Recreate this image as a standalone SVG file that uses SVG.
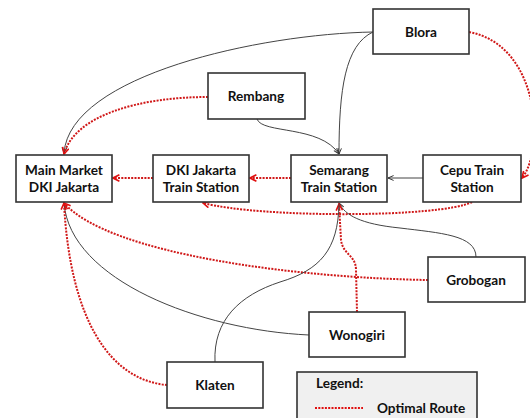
<svg xmlns="http://www.w3.org/2000/svg" width="530" height="418" viewBox="0 0 530 418">
<defs>
<style>
.box{fill:#fff;stroke:#333;stroke-width:1.6}
.t{font-family:Lato,"Liberation Sans",sans-serif;font-weight:bold;font-size:13.6px;fill:#111;text-anchor:middle}
.blk{fill:none;stroke:#444;stroke-width:1}
.red{fill:none;stroke:#d01818;stroke-width:2;stroke-dasharray:2 1.3}
</style>
<marker id="ar" viewBox="0 0 10 10" refX="9" refY="5" markerWidth="8" markerHeight="8" markerUnits="userSpaceOnUse" orient="auto">
<path d="M1,1 L9,5 L1,9" fill="none" stroke="#e01010" stroke-width="2"/>
</marker>
<marker id="ab" viewBox="0 0 10 10" refX="9" refY="5" markerWidth="7" markerHeight="7" markerUnits="userSpaceOnUse" orient="auto">
<path d="M1,1.5 L9,5 L1,8.5" fill="none" stroke="#333" stroke-width="1.4"/>
</marker>
</defs>
<rect width="530" height="418" fill="#fff"/>
<g id="connectors">
<path class="blk" d="M373,32 C260,34 70,75 64,153" marker-end="url(#ab)"/>
<path class="red" d="M208,97 C140,97 75,115 64,154" marker-end="url(#ar)"/>
<path class="blk" d="M257,119 C262,134 320,125 339,154" marker-end="url(#ab)"/>
<path class="blk" d="M373,32 C345,45 339,90 339,154" marker-end="url(#ab)"/>
<path class="red" d="M469,32 C540,45 545,150 522,178" marker-end="url(#ar)"/>
<path class="blk" d="M423,178 L388,178" marker-end="url(#ab)"/>
<path class="red" d="M291,178 L250,178" marker-end="url(#ar)"/>
<path class="red" d="M153,178 L113,178" marker-end="url(#ar)"/>
<path class="red" d="M472,202 C440,218 260,218 203,203" marker-end="url(#ar)"/>
<path class="red" d="M428,280 C300,278 110,255 64,203" marker-end="url(#ar)"/>
<path class="blk" d="M476,257 C476,235 440,233 400,228 C360,224 345,215 339,203" marker-end="url(#ab)"/>
<path class="red" d="M357,312 L356,270 C356,255 343,255 341,240 L339,204" marker-end="url(#ar)"/>
<path class="blk" d="M309,335 C200,330 70,280 64,203"/>
<path class="blk" d="M215,362 C213,320 240,295 280,282 C320,270 338,250 339,204"/>
<path class="red" d="M167,385 C110,380 70,320 64,203" marker-end="url(#ar)"/>
</g>
<g id="main-market"><rect class="box" x="16" y="155" width="96" height="47"/><text class="t" x="64" y="175">Main Market</text><text class="t" x="64" y="192">DKI Jakarta</text></g>
<g id="dki-station"><rect class="box" x="153" y="155" width="96" height="47"/><text class="t" x="201" y="175">DKI Jakarta</text><text class="t" x="201" y="192">Train Station</text></g>
<g id="semarang"><rect class="box" x="291" y="155" width="96" height="47"/><text class="t" x="339" y="175">Semarang</text><text class="t" x="339" y="192">Train Station</text></g>
<g id="cepu"><rect class="box" x="423" y="155" width="98" height="47"/><text class="t" x="472" y="175">Cepu Train</text><text class="t" x="472" y="192">Station</text></g>
<g id="rembang"><rect class="box" x="208" y="73" width="97" height="46"/><text class="t" x="256" y="101">Rembang</text></g>
<g id="blora"><rect class="box" x="373" y="9" width="96" height="45"/><text class="t" x="421" y="37">Blora</text></g>
<g id="grobogan"><rect class="box" x="428" y="257" width="97" height="45"/><text class="t" x="476" y="285">Grobogan</text></g>
<g id="wonogiri"><rect class="box" x="309" y="312" width="96" height="45"/><text class="t" x="357" y="340">Wonogiri</text></g>
<g id="klaten"><rect class="box" x="167" y="362" width="96" height="46"/><text class="t" x="215" y="390">Klaten</text></g>
<g id="legend"><rect x="297" y="372" width="180" height="60" fill="#f0f0f0" stroke="#333" stroke-width="1.6"/>
<text class="t" x="316" y="388" style="text-anchor:start">Legend:</text>
<line x1="315" y1="408" x2="363" y2="408" stroke="#e01010" stroke-width="2" stroke-dasharray="2 1.3"/>
<text class="t" x="377" y="413" style="text-anchor:start">Optimal Route</text></g>
</svg>
